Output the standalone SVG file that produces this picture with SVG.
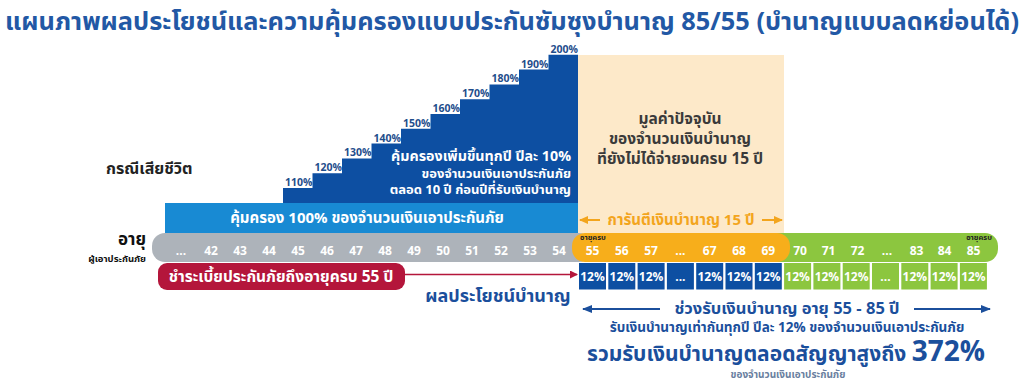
<svg xmlns="http://www.w3.org/2000/svg" width="1024" height="385" viewBox="0 0 1024 385">
<defs>
<style>
text{font-family:"Noto Sans Thai","Noto Sans","DejaVu Sans",sans-serif;font-weight:bold}
.pct{font-size:10.5px;fill:#1f4e8c}
.age{font-size:12px;fill:#fff;text-anchor:middle}
.box{font-size:12px;fill:#fff;text-anchor:middle}
.wh{fill:#fff}
.db{fill:#1b4f9c}
</style>
<marker id="arrRed" markerWidth="8" markerHeight="8" refX="7" refY="4" orient="auto" markerUnits="userSpaceOnUse"><path d="M0,0 L8,4 L0,8 z" fill="#b4163b"/></marker>
<marker id="arrOr" markerWidth="9" markerHeight="8" refX="8" refY="4" orient="auto-start-reverse" markerUnits="userSpaceOnUse"><path d="M0,0 L9,4 L0,8 z" fill="#f3a51d"/></marker>
<marker id="arrBl" markerWidth="10" markerHeight="8" refX="9" refY="4" orient="auto-start-reverse" markerUnits="userSpaceOnUse"><path d="M0,0 L10,4 L0,8 z" fill="#1b4f9c"/></marker>
</defs>
<rect width="1024" height="385" fill="#fff"/>

<g id="title">
<text x="5" y="30" font-size="24.5" fill="#2258a5" textLength="1014" lengthAdjust="spacingAndGlyphs">แผนภาพผลประโยชน์และความคุ้มครองแบบประกันซัมซุงบำนาญ 85/55 (บำนาญแบบลดหย่อนได้)</text>
</g>

<g id="death-label">
<text x="106" y="174" font-size="16" fill="#222">กรณีเสียชีวิต</text>
</g>

<g id="staircase">
<path d="M283,203 V188 H312.5 V173.2 H342 V158.4 H371.5 V143.6 H401 V128.8 H430.5 V114 H460 V99.2 H489.5 V84.4 H519 V69.6 H548.5 V54.8 H578 V203 Z" fill="#0d4fa2"/>
<text class="pct" x="285" y="186">110%</text>
<text class="pct" x="314.5" y="171.2">120%</text>
<text class="pct" x="344" y="156.4">130%</text>
<text class="pct" x="373.5" y="141.6">140%</text>
<text class="pct" x="403" y="126.8">150%</text>
<text class="pct" x="432.5" y="112">160%</text>
<text class="pct" x="462" y="97.2">170%</text>
<text class="pct" x="491.5" y="82.4">180%</text>
<text class="pct" x="521" y="67.6">190%</text>
<text class="pct" x="550.5" y="52.8">200%</text>
<text class="wh" font-size="13.5" text-anchor="end" x="571" y="161" textLength="180" lengthAdjust="spacingAndGlyphs">คุ้มครองเพิ่มขึ้นทุกปี ปีละ 10%</text>
<text class="wh" font-size="13" text-anchor="end" x="571" y="177.5">ของจำนวนเงินเอาประกันภัย</text>
<text class="wh" font-size="13" text-anchor="end" x="571" y="194">ตลอด 10 ปี ก่อนปีที่รับเงินบำนาญ</text>
</g>

<g id="base-coverage">
<rect x="165" y="203" width="413" height="30" fill="#188ad3"/>
<text class="wh" font-size="15" text-anchor="middle" x="367" y="223">คุ้มครอง 100% ของจำนวนเงินเอาประกันภัย</text>
</g>

<g id="present-value">
<rect x="578" y="55" width="206" height="178" fill="#fde9c9"/>
<text font-size="15.5" fill="#3a3a3a" text-anchor="middle" x="680" y="124">มูลค่าปัจจุบัน</text>
<text font-size="15.5" fill="#3a3a3a" text-anchor="middle" x="680" y="144">ของจำนวนเงินบำนาญ</text>
<text font-size="15.5" fill="#3a3a3a" text-anchor="middle" x="680" y="164">ที่ยังไม่ได้จ่ายจนครบ 15 ปี</text>
<text font-size="15" fill="#f3a51d" text-anchor="middle" x="681" y="225">การันตีเงินบำนาญ 15 ปี</text>
</g>

<g id="age-label">
<text font-size="17" fill="#111" text-anchor="end" x="146" y="245">อายุ</text>
<text font-size="9.5" fill="#111" text-anchor="end" x="146" y="262">ผู้เอาประกันภัย</text>
</g>

<g id="age-row">
<rect x="152" y="233" width="440" height="29" rx="13" fill="#adb3ba"/>
<rect x="760" y="233" width="238" height="29" rx="13" fill="#8cc63f"/>
<rect x="572" y="233" width="218" height="29" rx="13" fill="#f7ae1b"/>
<text font-size="7.5" fill="#222" x="580" y="240">อายุครบ</text>
<text font-size="7.5" fill="#222" x="992" y="240" text-anchor="end">อายุครบ</text>
<text class="age" x="181" y="255">...</text>
<text class="age" x="211" y="255">42</text>
<text class="age" x="240" y="255">43</text>
<text class="age" x="269" y="255">44</text>
<text class="age" x="298" y="255">45</text>
<text class="age" x="327" y="255">46</text>
<text class="age" x="356" y="255">47</text>
<text class="age" x="385" y="255">48</text>
<text class="age" x="414" y="255">49</text>
<text class="age" x="443" y="255">50</text>
<text class="age" x="472" y="255">51</text>
<text class="age" x="501" y="255">52</text>
<text class="age" x="530" y="255">53</text>
<text class="age" x="559" y="255">54</text>
<text class="age" x="592.5" y="255">55</text>
<text class="age" x="621.8" y="255">56</text>
<text class="age" x="651.1" y="255">57</text>
<text class="age" x="680.4" y="255">...</text>
<text class="age" x="709.7" y="255">67</text>
<text class="age" x="739" y="255">68</text>
<text class="age" x="768.3" y="255">69</text>
<text class="age" x="800" y="255">70</text>
<text class="age" x="828.5" y="255">71</text>
<text class="age" x="857.5" y="255">72</text>
<text class="age" x="887" y="255">...</text>
<text class="age" x="916.5" y="255">83</text>
<text class="age" x="944.5" y="255">84</text>
<text class="age" x="973.5" y="255">85</text>
</g>

<g id="premium-pill">
<rect x="158" y="263" width="247" height="27" rx="9" fill="#b4163b"/>
<text class="wh" font-size="15.5" text-anchor="middle" x="281" y="282">ชำระเบี้ยประกันภัยถึงอายุครบ 55 ปี</text>
</g>

<g id="payout-boxes">
<g fill="#0d4fa2">
<rect x="579" y="263" width="27" height="26.5"/>
<rect x="608.3" y="263" width="27" height="26.5"/>
<rect x="637.6" y="263" width="27" height="26.5"/>
<rect x="666.9" y="263" width="27" height="26.5"/>
<rect x="696.2" y="263" width="27" height="26.5"/>
<rect x="725.5" y="263" width="27" height="26.5"/>
<rect x="754.8" y="263" width="27" height="26.5"/>
</g>
<g fill="#8cc63f">
<rect x="784.1" y="263" width="27" height="26.5"/>
<rect x="813.4" y="263" width="27" height="26.5"/>
<rect x="842.7" y="263" width="27" height="26.5"/>
<rect x="872" y="263" width="27" height="26.5"/>
<rect x="901.3" y="263" width="27" height="26.5"/>
<rect x="930.6" y="263" width="27" height="26.5"/>
<rect x="959.9" y="263" width="27" height="26.5"/>
</g>
<text class="box" x="592.5" y="281">12%</text>
<text class="box" x="621.8" y="281">12%</text>
<text class="box" x="651.1" y="281">12%</text>
<text class="box" x="680.4" y="281">...</text>
<text class="box" x="709.7" y="281">12%</text>
<text class="box" x="739" y="281">12%</text>
<text class="box" x="768.3" y="281">12%</text>
<text class="box" x="797.6" y="281">12%</text>
<text class="box" x="826.9" y="281">12%</text>
<text class="box" x="856.2" y="281">12%</text>
<text class="box" x="885.5" y="281">...</text>
<text class="box" x="914.8" y="281">12%</text>
<text class="box" x="944.1" y="281">12%</text>
<text class="box" x="973.4" y="281">12%</text>
</g>

<g id="connectors">
<line x1="405" y1="274.5" x2="577" y2="274.5" stroke="#b4163b" stroke-width="1.6" marker-end="url(#arrRed)"/>
<line x1="580" y1="220" x2="600" y2="220" stroke="#f3a51d" stroke-width="2" marker-start="url(#arrOr)"/>
<line x1="762" y1="220" x2="782" y2="220" stroke="#f3a51d" stroke-width="2" marker-end="url(#arrOr)"/>
<line x1="583" y1="309" x2="660" y2="309" stroke="#1b4f9c" stroke-width="2" marker-start="url(#arrBl)"/>
<line x1="914" y1="309" x2="990" y2="309" stroke="#1b4f9c" stroke-width="2" marker-end="url(#arrBl)"/>
</g>

<g id="pension-label">
<text class="db" font-size="18" text-anchor="middle" x="498" y="302">ผลประโยชน์บำนาญ</text>
</g>

<g id="pension-summary">
<text class="db" font-size="16.5" text-anchor="middle" x="787" y="314">ช่วงรับเงินบำนาญ อายุ 55 - 85 ปี</text>
<text class="db" font-size="13.5" text-anchor="middle" x="787" y="332">รับเงินบำนาญเท่ากันทุกปี ปีละ 12% ของจำนวนเงินเอาประกันภัย</text>
<text class="db" font-size="21" x="587" y="361">รวมรับเงินบำนาญตลอดสัญญาสูงถึง <tspan font-size="28">372%</tspan></text>
<text font-size="10" font-weight="normal" fill="#6a7fa0" text-anchor="middle" x="788" y="378">ของจำนวนเงินเอาประกันภัย</text>
</g>
</svg>
